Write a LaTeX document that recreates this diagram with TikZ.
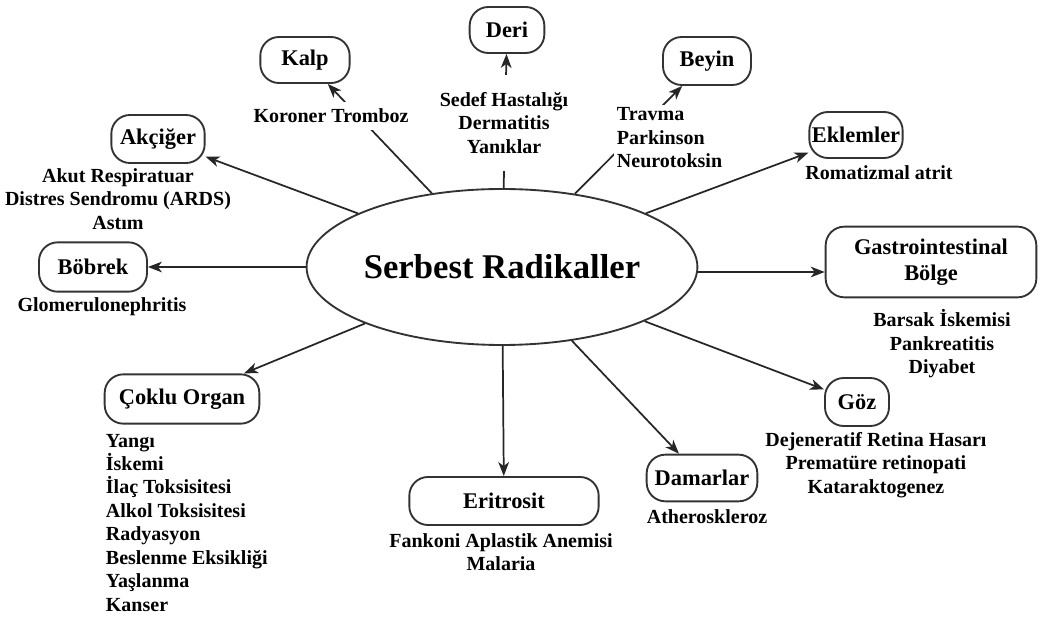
\documentclass[tikz,border=0pt]{standalone}
\usepackage{fontspec}
\setmainfont{Liberation Serif}
\usetikzlibrary{shapes.geometric,arrows.meta}

\begin{document}
\begin{tikzpicture}[x=0.75pt,y=-0.75pt,>={Stealth[length=10.5pt,width=8pt,inset=3pt]},
  organ/.style={draw=black!80, line width=1.4pt, rounded corners=14pt, fill=white, inner sep=0pt, align=center, font=\bfseries\fontsize{16.8}{19.5}\selectfont},
  item/.style={inner sep=2pt, font=\bfseries\fontsize{15}{17.6}\selectfont},
  masked/.style={fill=white},
  link/.style={->, draw=black!85, line width=1.3pt}]
  \useasboundingbox (0,0) rectangle (1040,623);

  \node[ellipse, draw=black!80, line width=1.4pt, minimum width=283pt, minimum height=117pt, inner sep=0pt, font=\bfseries\fontsize{26}{30}\selectfont] (sr) at (502,267) {Serbest Radikaller};

  \node[organ, minimum width=67pt, minimum height=34.5pt] (kalp) at (305,60) {Kalp};
  \node[organ, minimum width=56pt, minimum height=34.5pt] (deri) at (507,30) {Deri};
  \node[organ, minimum width=66pt, minimum height=36pt] (beyin) at (707,61) {Beyin};
  \node[organ, minimum width=70pt, minimum height=36pt] (akciger) at (158,139) {Akçiğer};
  \node[organ, minimum width=70pt, minimum height=34.5pt] (eklemler) at (856,135) {Eklemler};
  \node[organ, minimum width=81pt, minimum height=37pt] (bobrek) at (93,267) {Böbrek};
  \node[organ, minimum width=158pt, minimum height=53pt] (gastro) at (931,262) {Gastrointestinal\\Bölge};
  \node[organ, minimum width=116pt, minimum height=37pt] (coklu) at (182,399) {Çoklu Organ};
  \node[organ, minimum width=142pt, minimum height=36pt] (eritrosit) at (504,501) {Eritrosit};
  \node[organ, minimum width=83pt, minimum height=35pt] (damarlar) at (702,478) {Damarlar};
  \node[organ, minimum width=48pt, minimum height=36pt] (goz) at (857,402) {Göz};

  \foreach \organ in {kalp,deri,beyin,akciger,eklemler,bobrek,coklu,eritrosit,damarlar,goz} {
    \draw[link] (sr) -- (\organ);
  }
  \draw[link] ([yshift=-3.75pt]sr.east) -- ([yshift=-3.75pt]sr.east -| gastro.west);

  \node[item,masked,inner ysep=5pt] (koroner) at (331,116) {Koroner Tromboz};
  \node[item,masked,align=center,minimum height=72pt] (derilist) at (504,123) {Sedef Hastalığı\\Dermatitis\\Yanıklar};
  \node[item,masked,align=left,anchor=west] (beyinlist) at (614,138) {Travma\\Parkinson\\Neurotoksin};
  \node[item,align=center] (akcigerlist) at (118,199) {Akut Respiratuar\\Distres Sendromu (ARDS)\\Astım};
  \node[item] (glomer) at (102,307) {Glomerulonephritis};
  \node[item] (romatizmal) at (879,173) {Romatizmal atrit};
  \node[item,align=center] (gastrolist) at (942,344) {Barsak İskemisi\\Pankreatitis\\Diyabet};
  \node[item,align=center] (gozlist) at (876,465) {Dejeneratif Retina Hasarı\\Prematüre retinopati\\Kataraktogenez};
  \node[item] (athero) at (707,517) {Atheroskleroz};
  \node[item,align=center] (eritrolist) at (501,552) {Fankoni Aplastik Anemisi\\Malaria};
  \node[item,align=left,anchor=north west] (coklulist) at (103,431) {Yangı\\İskemi\\İlaç Toksisitesi\\Alkol Toksisitesi\\Radyasyon\\Beslenme Eksikliği\\Yaşlanma\\Kanser};
\end{tikzpicture}
\end{document}
